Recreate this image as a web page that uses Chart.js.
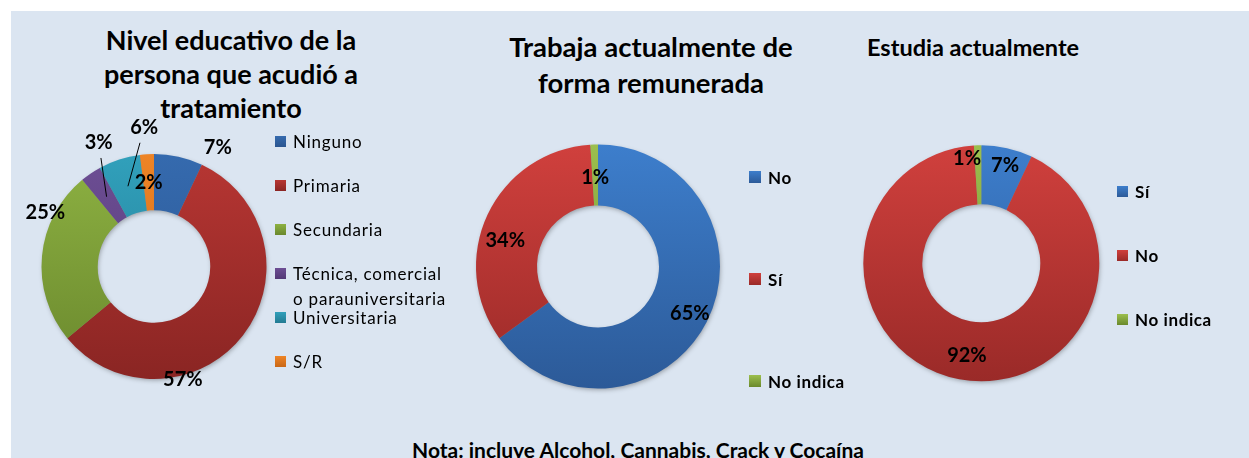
<!DOCTYPE html>
<html>
<head>
<meta charset="utf-8">
<script src="https://cdn.jsdelivr.net/npm/chart.js@4.4.0/dist/chart.umd.min.js"></script>
<style>
  body { margin: 0; width: 1249px; height: 458px; overflow: hidden; position: relative; background: #fff; font-family: Lato, "Open Sans", sans-serif; }
  #panel { position: absolute; left: 11px; top: 11px; width: 1238px; height: 447px; background: #DBE5F1; }
  canvas { position: absolute; }
  .title { position: absolute; font-weight: bold; color: #000; white-space: nowrap; }
  .legend { position: absolute; z-index: 2; color: #000; }
  .legend .item { position: absolute; left: 0; white-space: nowrap; }
  .legend .box { position: absolute; left: 0; }
  .note { position: absolute; left: 0; width: 1276px; top: 437px; text-align: center; font-weight: bold; font-size: 21px; line-height: 25px; }
</style>
</head>
<body>
<div id="panel"></div>

<div class="title" style="left:231px;top:23px;transform:translateX(-50%);text-align:center;font-size:27px;line-height:34px;">Nivel educativo de la<br>persona que acudió a<br>tratamiento</div>
<div class="title" style="left:651px;top:29px;transform:translateX(-50%);text-align:center;font-size:27.5px;line-height:35.5px;">Trabaja actualmente de<br>forma remunerada</div>
<div class="title" style="left:867px;top:33px;font-size:23.5px;line-height:28px;">Estudia actualmente</div>

<canvas id="eduChart" width="290" height="320" style="left:0px;top:100px;"></canvas>
<canvas id="workChart" width="320" height="320" style="left:440px;top:100px;"></canvas>
<canvas id="studyChart" width="280" height="320" style="left:840px;top:100px;"></canvas>

<div id="eduLegend" class="legend"></div>
<div id="workLegend" class="legend"></div>
<div id="studyLegend" class="legend"></div>

<div class="note">Nota: incluye Alcohol, Cannabis, Crack y Cocaína</div>

<script>
// data
const eduLabels = ['Ninguno', 'Primaria', 'Secundaria', 'Técnica, comercial o parauniversitaria', 'Universitaria', 'S/R'];
const eduValues = [7, 57, 25, 3, 6, 2];
const workLabels = ['No', 'Sí', 'No indica'];
const workValues = [65, 34, 1];
const studyLabels = ['Sí', 'No', 'No indica'];
const studyValues = [7, 92, 1];

// colours (top, bottom of gradient)
const blue = ['#3D7ECC', '#2C5A98'];
const red = ['#D0403D', '#9A2A28'];
const green = ['#9CBF4E', '#6A892C'];
// first chart is a shade darker in the original
const eduPalette = [
  ['#356AAE', '#2A5590'],
  ['#B73633', '#8A2523'],
  ['#8DB142', '#6A882D'],
  ['#6D4E94', '#533976'],
  ['#31A0BB', '#227A92'],
  ['#EE8426', '#C96716']
];

function gradient(palette) {
  return function (c) {
    const area = c.chart.chartArea;
    const pair = palette[c.dataIndex];
    if (!area) return pair[0];
    const g = c.chart.ctx.createLinearGradient(0, area.top, 0, area.bottom);
    g.addColorStop(0, pair[0]);
    g.addColorStop(1, pair[1]);
    return g;
  };
}

// soft shadow under the ring, like the office chart
const ringShadow = {
  id: 'ringShadow',
  beforeDatasetsDraw(chart) {
    const arc = chart.getDatasetMeta(0).data[0];
    if (!arc) return;
    const p = arc.getProps(['x', 'y', 'innerRadius', 'outerRadius'], true);
    const ctx = chart.ctx;
    ctx.save();
    ctx.shadowColor = 'rgba(0,0,0,0.35)';
    ctx.shadowBlur = 5;
    ctx.shadowOffsetX = 1;
    ctx.shadowOffsetY = 2;
    ctx.fillStyle = '#888';
    ctx.beginPath();
    ctx.arc(p.x, p.y, p.outerRadius - 1, 0, Math.PI * 2);
    ctx.arc(p.x, p.y, p.innerRadius + 1, 0, Math.PI * 2, true);
    ctx.fill();
    ctx.restore();
  }
};

// percentage labels, placed from each arc's mid angle
const sliceLabels = {
  id: 'sliceLabels',
  afterDatasetsDraw(chart, args, opts) {
    const ctx = chart.ctx;
    const meta = chart.getDatasetMeta(0);
    const values = chart.data.datasets[0].data;
    ctx.save();
    ctx.font = 'bold 20px Lato, "Open Sans", sans-serif';
    ctx.fillStyle = '#000';
    ctx.strokeStyle = '#000';
    ctx.lineWidth = 1;
    ctx.textAlign = 'center';
    ctx.textBaseline = 'middle';
    meta.data.forEach((arc, i) => {
      const p = arc.getProps(['x', 'y', 'startAngle', 'endAngle', 'innerRadius', 'outerRadius'], true);
      const mid = (p.startAngle + p.endAngle) / 2;
      const a = mid + (opts.shift[i] || 0) * Math.PI / 180;
      const r = p.outerRadius * opts.dist[i];
      const lx = p.x + Math.cos(a) * r;
      const ly = p.y + Math.sin(a) * r;
      if (opts.leader && opts.leader[i]) {
        const rm = (p.innerRadius + p.outerRadius) / 2;
        const ex = p.x + Math.cos(mid) * rm;
        const ey = p.y + Math.sin(mid) * rm;
        const len = Math.hypot(ex - lx, ey - ly);
        ctx.beginPath();
        ctx.moveTo(lx + (ex - lx) / len * 16, ly + (ey - ly) / len * 16);
        ctx.lineTo(ex, ey);
        ctx.stroke();
      }
      ctx.fillText(values[i] + '%', lx, ly);
    });
    ctx.restore();
  }
};

// padding so that the ring sits at (cx, cy) with radius R inside the canvas
function ringPadding(canvas, cx, cy, R) {
  const left = parseFloat(canvas.style.left), top = parseFloat(canvas.style.top);
  return {
    left: cx - R - left,
    top: cy - R - top,
    right: left + canvas.width - (cx + R),
    bottom: top + canvas.height - (cy + R)
  };
}

function makeDoughnut(id, labels, values, palette, ring, labelOpts) {
  const canvas = document.getElementById(id);
  return new Chart(canvas, {
    type: 'doughnut',
    data: {
      labels: labels,
      datasets: [{
        data: values,
        backgroundColor: gradient(palette),
        borderWidth: 0
      }]
    },
    options: {
      responsive: false,
      devicePixelRatio: 1,
      animation: false,
      cutout: '50%',
      layout: { padding: ringPadding(canvas, ring.cx, ring.cy, ring.R) },
      plugins: {
        legend: { display: false },
        tooltip: { enabled: false },
        sliceLabels: labelOpts
      }
    },
    plugins: [ringShadow, sliceLabels]
  });
}

function buildLegend(id, labels, palette, x, y0, step, opt) {
  const el = document.getElementById(id);
  el.style.left = x + 'px';
  el.style.top = '0px';
  labels.forEach((label, i) => {
    const yc = y0 + i * step;
    const box = document.createElement('div');
    box.className = 'box';
    box.style.top = (yc - opt.box / 2) + 'px';
    box.style.width = opt.box + 'px';
    box.style.height = opt.box + 'px';
    box.style.background = 'linear-gradient(' + palette[i][0] + ',' + palette[i][1] + ')';
    el.appendChild(box);
    const item = document.createElement('div');
    item.className = 'item';
    item.style.left = opt.textX + 'px';
    item.style.top = (yc - opt.lh / 2) + 'px';
    item.style.lineHeight = opt.lh + 'px';
    item.style.fontSize = opt.size + 'px';
    item.style.fontWeight = opt.bold ? 'bold' : 'normal';
    item.style.letterSpacing = opt.spacing + 'px';
    if (opt.wrap) { item.style.whiteSpace = 'normal'; item.style.width = opt.wrap + 'px'; }
    item.textContent = label;
    el.appendChild(item);
  });
}

const workPalette = [blue, red, green];
const studyPalette = [blue, red, green];

makeDoughnut('eduChart', eduLabels, eduValues, eduPalette,
  { cx: 154, cy: 266.5, R: 112.5 },
  { dist: [1.2, 1.04, 1.08, 1.21, 1.24, 0.745], shift: [15.6, 37.9, 21.2, 10.2, 14, 0], leader: [false, false, false, true, true, false] });

makeDoughnut('workChart', workLabels, workValues, workPalette,
  { cx: 598, cy: 266.5, R: 122 },
  { dist: [0.845, 0.79, 0.73], shift: [0, -9.3, 0] });

makeDoughnut('studyChart', studyLabels, studyValues, studyPalette,
  { cx: 981.3, cy: 263.3, R: 118 },
  { dist: [0.85, 0.795, 0.9], shift: [1.1, -2, -5.9] });

buildLegend('eduLegend', eduLabels, eduPalette, 275, 141, 44, { box: 11, textX: 18, lh: 25, size: 17, bold: false, spacing: 0.8, wrap: 160 });
buildLegend('workLegend', workLabels, workPalette, 749, 177, 102, { box: 12, textX: 19, lh: 25, size: 17, bold: true, spacing: 0.6 });
buildLegend('studyLegend', studyLabels, studyPalette, 1117, 191, 64.3, { box: 11, textX: 18, lh: 25, size: 17, bold: true, spacing: 0.6 });
</script>
</body>
</html>
